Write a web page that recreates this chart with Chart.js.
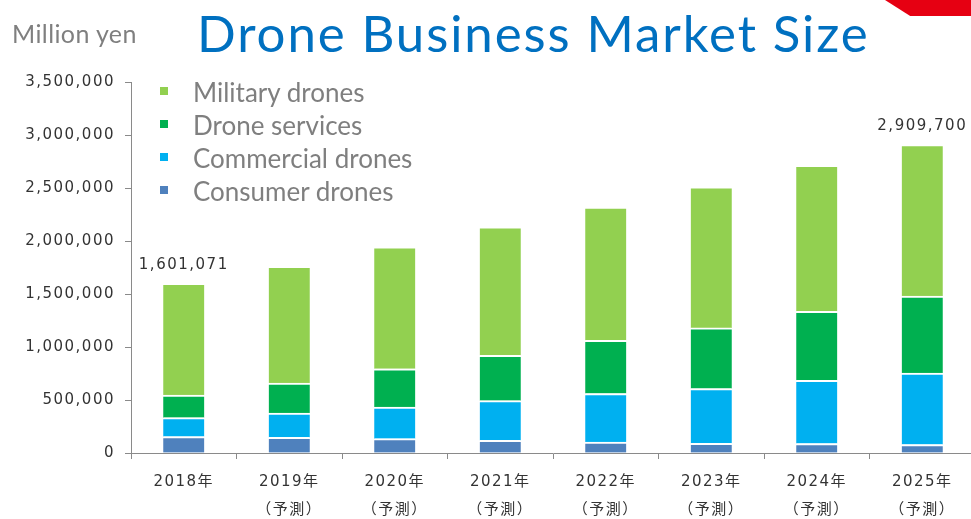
<!DOCTYPE html>
<html>
<head>
<meta charset="utf-8">
<script src="https://cdn.jsdelivr.net/npm/chart.js@4.4.1/dist/chart.umd.min.js"></script>
<style>
  html, body { margin: 0; padding: 0; background: #fff; overflow: hidden; }
  #wrap { position: relative; width: 971px; height: 519px; overflow: hidden; }
  #chart-box { position: absolute; left: 0; top: 0; width: 980px; height: 519px; }
  .unit { position: absolute; left: 12px; top: 18px; font: 25px Lato, sans-serif; color: #7f7f7f; letter-spacing: 0.4px; }
  .title { position: absolute; left: 197px; top: 2px; font: 51px Lato, sans-serif; color: #0070c0; letter-spacing: 1.9px; white-space: nowrap; }
  .corner { position: absolute; left: 885px; top: 0; width: 90px; height: 16px; background: #e60012;
            clip-path: polygon(0 0, 100% 0, 100% 100%, 28% 100%); }
  .legend { position: absolute; left: 160px; top: 76px; font: 26px Lato, sans-serif; color: #7f7f7f; }
  .legend div { position: relative; height: 33px; line-height: 33px; padding-left: 33px; white-space: nowrap; }
  .legend span { position: absolute; left: 0; top: 11px; width: 8px; height: 8px; }
</style>
</head>
<body>
<div id="wrap">
  <div id="chart-box"><canvas id="c" width="980" height="519"></canvas></div>
  <div class="unit">Million yen</div>
  <div class="title">Drone Business Market Size</div>
  <div class="corner"></div>
  <div class="legend" id="legend"></div>
</div>
<script>
const categories = [
  ['2018年'], ['2019年', '（予測）'], ['2020年', '（予測）'], ['2021年', '（予測）'],
  ['2022年', '（予測）'], ['2023年', '（予測）'], ['2024年', '（予測）'], ['2025年', '（予測）']
];
const consumerDrones   = [155000, 147000, 135000, 119000, 104000, 92000, 90000, 80000];
const commercialDrones = [178000, 230000, 299000, 375000, 457000, 516000, 596000, 675000];
const droneServices    = [214000, 283000, 360000, 427000, 502000, 572000, 651000, 726000];
const militaryDrones   = [1054071, 1100000, 1152000, 1212000, 1258000, 1330000, 1378000, 1428700];
const totalLabelIndex  = [0, 7];

const series = [
  { label: 'Consumer drones', data: consumerDrones, color: '#4f81bd' },
  { label: 'Commercial drones', data: commercialDrones, color: '#00b0f0' },
  { label: 'Drone services', data: droneServices, color: '#00b050' },
  { label: 'Military drones', data: militaryDrones, color: '#92d050' }
];

// legend (top to bottom reversed from stack order)
const legendEl = document.getElementById('legend');
series.slice().reverse().forEach(s => {
  const row = document.createElement('div');
  row.innerHTML = '<span style="background:' + s.color + '"></span>' + s.label;
  legendEl.appendChild(row);
});

const tickFont = { family: '"DejaVu Sans", sans-serif', size: 15 };

const spacingPlugin = {
  id: 'spacing',
  beforeDraw(chart) { chart.ctx.letterSpacing = '1.5px'; }
};

const totalsPlugin = {
  id: 'totals',
  afterDatasetsDraw(chart) {
    const ctx = chart.ctx;
    const y = chart.scales.y;
    const meta = chart.getDatasetMeta(series.length - 1);
    ctx.save();
    ctx.letterSpacing = '1.5px';
    ctx.font = '15px "DejaVu Sans", sans-serif';
    ctx.fillStyle = '#333';
    ctx.textAlign = 'center';
    ctx.textBaseline = 'bottom';
    totalLabelIndex.forEach(i => {
      const total = series.reduce((a, s) => a + s.data[i], 0);
      const x = meta.data[i].x;
      ctx.fillText(total.toLocaleString('en-US'), x, y.getPixelForValue(total) - 11);
    });
    ctx.restore();
  }
};

new Chart(document.getElementById('c'), {
  type: 'bar',
  data: {
    labels: categories,
    datasets: series.map(s => ({
      label: s.label,
      data: s.data,
      backgroundColor: s.color,
      borderColor: '#ffffff',
      borderWidth: { top: 2, right: 0, bottom: 0, left: 0 },
      borderSkipped: false,
      barThickness: 41
    }))
  },
  options: {
    responsive: false,
    animation: false,
    layout: { padding: { top: 82, right: 5, bottom: 0, left: 0 } },
    plugins: { legend: { display: false }, tooltip: { enabled: false } },
    scales: {
      x: {
        stacked: true,
        grid: { display: true, drawOnChartArea: false, drawTicks: true, tickLength: 6, color: '#8a8a8a' },
        border: { display: true, color: '#8a8a8a', width: 1 },
        ticks: {
          color: '#333',
          font: { family: '"DejaVu Sans", "Noto Sans CJK JP", sans-serif', size: 15, lineHeight: 1.85 },
          padding: 9,
          maxRotation: 0,
          autoSkip: false
        },
        afterFit(scale) { scale.height = 66; }
      },
      y: {
        stacked: true,
        min: 0,
        max: 3500000,
        grid: { display: true, drawOnChartArea: false, drawTicks: true, tickLength: 6, color: '#8a8a8a' },
        border: { display: true, color: '#8a8a8a', width: 1 },
        ticks: {
          stepSize: 500000,
          color: '#333',
          font: tickFont,
          padding: 10,
          callback: v => v.toLocaleString('en-US')
        },
        afterFit(scale) { scale.width = 131; }
      }
    }
  },
  plugins: [spacingPlugin, totalsPlugin]
});
</script>
</body>
</html>
